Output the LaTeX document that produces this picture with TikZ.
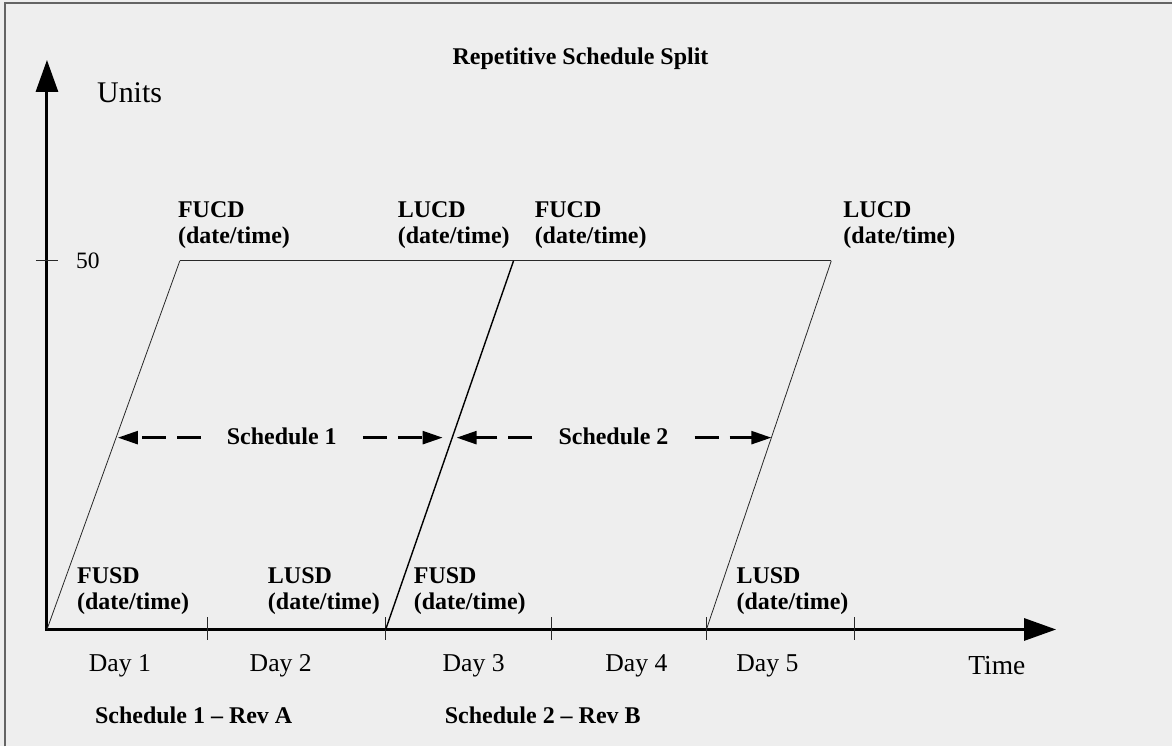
\documentclass[tikz,border=0pt]{standalone}
\usepackage{fontspec}
\setmainfont{Liberation Serif}
\usetikzlibrary{arrows.meta,calc}
\definecolor{bgcol}{RGB}{238,238,238}
\definecolor{bordercol}{RGB}{100,100,100}
\definecolor{linecol}{RGB}{40,40,40}
\begin{document}
\begin{tikzpicture}[x=1pt,y=-1pt,
  lbl/.style={font=\fontsize{24}{25.5}\selectfont\bfseries, inner sep=0pt, align=left, anchor=north west},
  bold24/.style={font=\fontsize{24}{28}\selectfont\bfseries, inner sep=0pt},
  daylbl/.style={font=\fontsize{25.7}{30}\selectfont, inner sep=0pt, anchor=base},
  axis/.style={line width=3pt, {Triangle[length=32pt,width=22pt]}-{Triangle[length=32pt,width=22pt]}},
  thinline/.style={linecol, line width=0.8pt},
  midline/.style={black, line width=1.4pt},
  topline/.style={linecol, line width=1.3pt},
  tickmark/.style={linecol, line width=0.8pt},
  dasharrow/.style={line width=2.5pt, dash pattern=on 24pt off 11pt, -{Triangle[length=20pt,width=13pt]}},
  sched/.style={font=\fontsize{24}{28}\selectfont\bfseries, inner ysep=0pt, inner xsep=26pt, anchor=base}
]
% background and frame
\fill[bgcol] (0,0) rectangle (1173,747);
\draw[bordercol, line width=2pt] (5,747) -- (5,3) -- (1173,3);
\useasboundingbox (0,0) rectangle (1173,747);

% title
\node[bold24, anchor=base] (title) at (581,65) {Repetitive Schedule Split};

% axes
\coordinate (O) at (47,630);
\coordinate (Ytip) at (47,60);
\coordinate (Xtip) at (1057,630);
\draw[axis] (Ytip) -- (O) -- (Xtip);
\node[font=\fontsize{30}{34}\selectfont, inner sep=0pt, anchor=base west] (units) at (97,103) {Units};
\node[font=\fontsize{27.5}{32}\selectfont, inner sep=0pt, anchor=base west] (time) at (969,675) {Time};

% tick at 50
\coordinate (t50a) at (36,261);
\coordinate (t50b) at (58,261);
\draw[tickmark] (t50a) -- (t50b);
\node[font=\fontsize{23.5}{28}\selectfont, inner sep=0pt, anchor=base west] (fifty) at (76,269) {50};

% x ticks
\foreach \x/\n in {208/a,386/b,552/c,707/d,855/e}{
  \coordinate (tk\n1) at (\x,618);
  \coordinate (tk\n2) at (\x,641);
  \draw[tickmark] (tk\n1) -- (tk\n2);
}

% schedule lines
\coordinate (A1) at (180,261);
\coordinate (B1) at (386,630);
\coordinate (A2) at (514,261);
\coordinate (B2) at (707,630);
\coordinate (A3) at (832,261);
\draw[thinline] (O) -- (A1);
\draw[topline] (A1) -- (A3);
\draw[midline] (B1) -- (A2);
\draw[thinline] (B2) -- (A3);

% dashed schedule arrows
\coordinate (L1) at (118,438);
\coordinate (R1) at (443,438);
\coordinate (L2) at (457,438);
\coordinate (R2) at (772,438);
\node[sched] (s1) at (282,445) {Schedule 1};
\node[sched] (s2) at (614,445) {Schedule 2};
\draw[dasharrow] (s1.west |- L1) -- (L1);
\draw[dasharrow] (s1.east |- R1) -- (R1);
\draw[dasharrow] (s2.west |- L2) -- (L2);
\draw[dasharrow] (s2.east |- R2) -- (R2);

% top labels
\node[lbl] (fucd1) at (178,202) {FUCD\\(date/time)};
\node[lbl] (lucd1) at (398,202) {LUCD\\(date/time)};
\node[lbl] (fucd2) at (535,202) {FUCD\\(date/time)};
\node[lbl] (lucd2) at (844,202) {LUCD\\(date/time)};

% bottom labels
\node[lbl] (fusd1) at (77,568) {FUSD\\(date/time)};
\node[lbl] (lusd1) at (268,568) {LUSD\\(date/time)};
\node[lbl] (fusd2) at (414,568) {FUSD\\(date/time)};
\node[lbl] (lusd2) at (737,568) {LUSD\\(date/time)};

% day labels
\node[daylbl] (d1) at (120,672) {Day 1};
\node[daylbl] (d2) at (281,672) {Day 2};
\node[daylbl] (d3) at (474,672) {Day 3};
\node[daylbl] (d4) at (637,672) {Day 4};
\node[daylbl] (d5) at (768,672) {Day 5};

% revision labels
\node[bold24, anchor=base west] (rev1) at (95,724) {Schedule 1 – Rev A};
\node[bold24, anchor=base west] (rev2) at (445,724) {Schedule 2 – Rev B};
\end{tikzpicture}
\end{document}
